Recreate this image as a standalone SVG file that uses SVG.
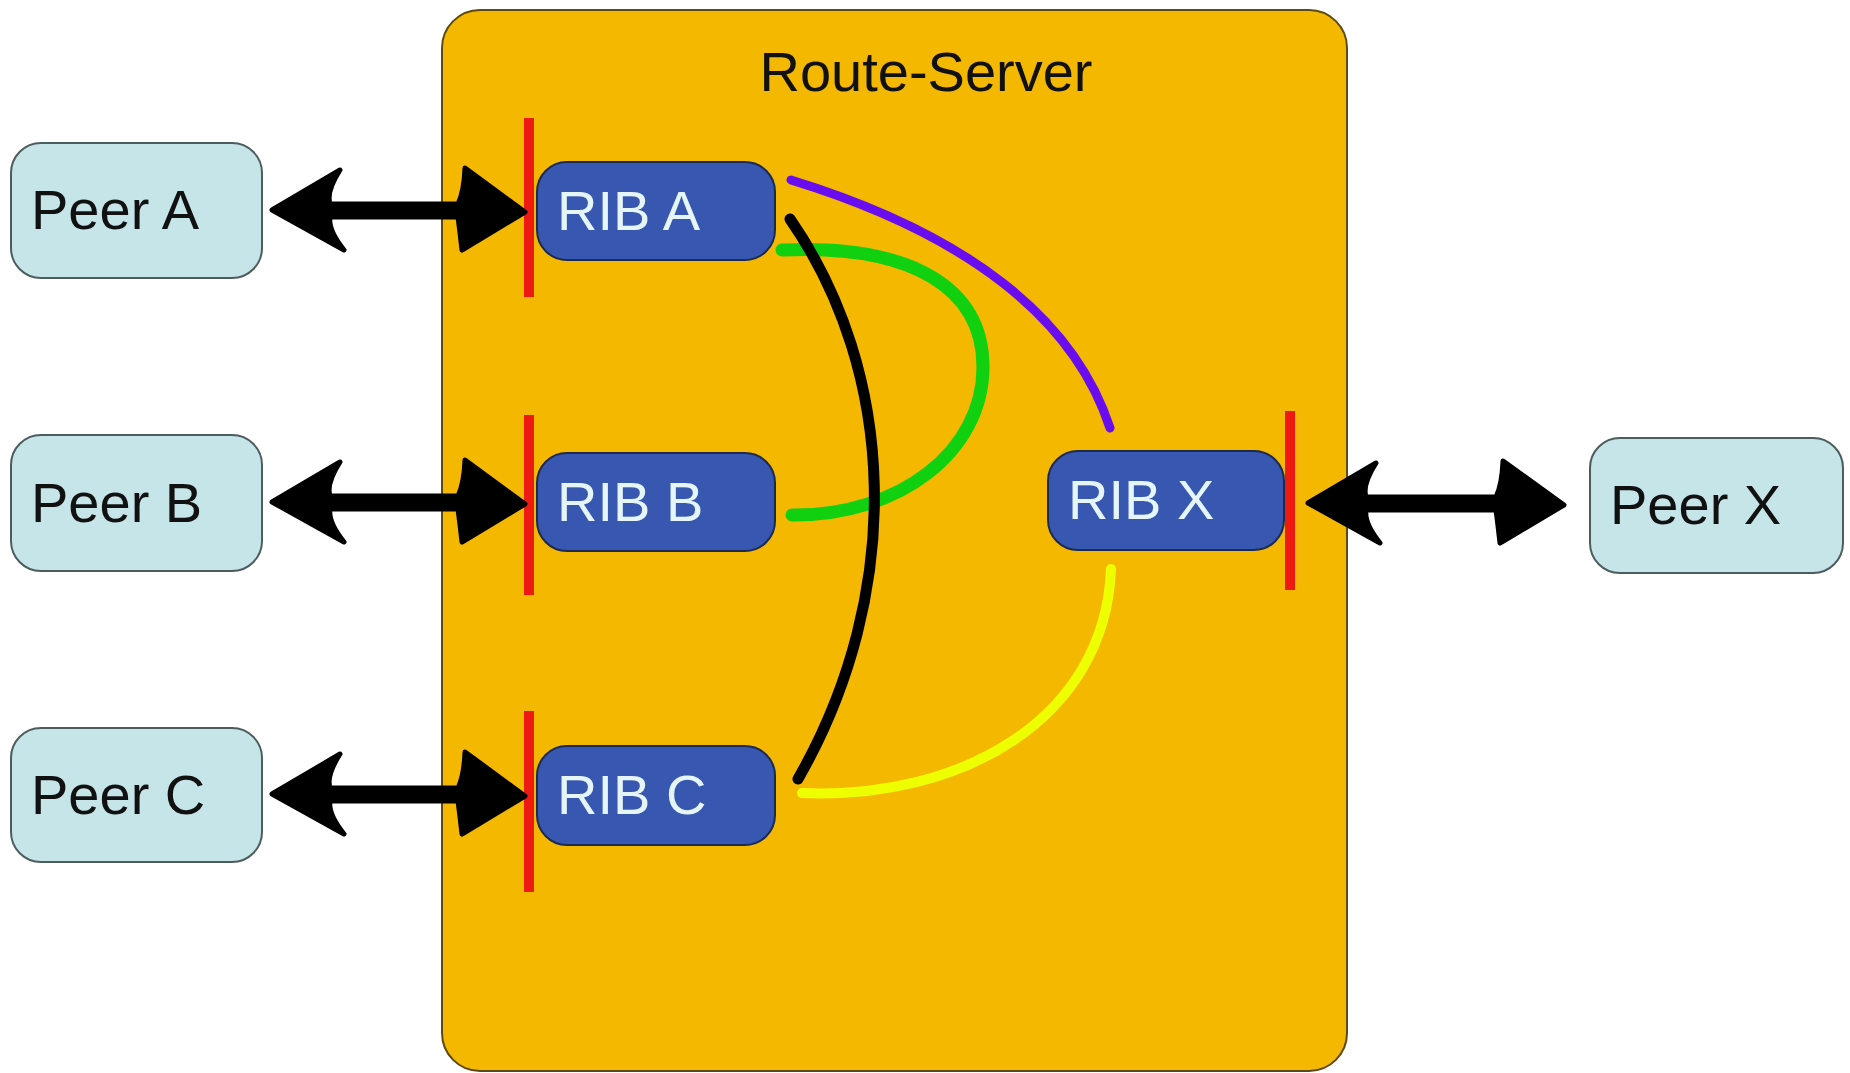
<svg xmlns="http://www.w3.org/2000/svg" width="1850" height="1073" viewBox="0 0 1850 1073">
<style>
.peer{fill:#c6e5e9;stroke:#4d5c5c;stroke-width:2}
.rib{fill:#3757b1;stroke:#1c2a52;stroke-width:2}
.pt{font-family:"Liberation Sans",Arial,sans-serif;font-size:56px;fill:#111}
.rt{font-family:"Liberation Sans",Arial,sans-serif;font-size:56px;fill:#e6f6f8}
.bar{fill:#ee1a12}
.arr{fill:#000;stroke:#000;stroke-width:5;stroke-linejoin:round}
.cv{fill:none;stroke-linecap:round}
</style>
<rect width="1850" height="1073" fill="#fff"/>
<g id="route-server">
<rect x="442" y="10" width="905" height="1061" rx="38" fill="#f5b800" stroke="#5c4a10" stroke-width="2"/>
<text x="926" y="91" text-anchor="middle" class="pt" font-size="57">Route-Server</text>
</g>
<g id="peer-a"><rect class="peer" x="11" y="143" width="251" height="135" rx="30"/><text class="pt" x="31" y="229">Peer A</text></g>
<g id="peer-b"><rect class="peer" x="11" y="435" width="251" height="136" rx="30"/><text class="pt" x="31" y="522">Peer B</text></g>
<g id="peer-c"><rect class="peer" x="11" y="728" width="251" height="134" rx="30"/><text class="pt" x="31" y="814">Peer C</text></g>
<g id="peer-x"><rect class="peer" x="1590" y="438" width="253" height="135" rx="30"/><text class="pt" x="1610" y="524">Peer X</text></g>
<g id="rib-a"><rect class="rib" x="537" y="162" width="238" height="98" rx="30"/><text class="rt" x="557" y="230">RIB A</text></g>
<g id="rib-b"><rect class="rib" x="537" y="453" width="238" height="98" rx="30"/><text class="rt" x="557" y="521">RIB B</text></g>
<g id="rib-c"><rect class="rib" x="537" y="746" width="238" height="99" rx="30"/><text class="rt" x="557" y="814">RIB C</text></g>
<g id="rib-x"><rect class="rib" x="1048" y="451" width="236" height="99" rx="30"/><text class="rt" x="1068" y="519">RIB X</text></g>
<g id="interfaces">
<rect class="bar" x="524" y="118" width="10" height="179"/>
<rect class="bar" x="524" y="415" width="10" height="180"/>
<rect class="bar" x="524" y="711" width="10" height="181"/>
<rect class="bar" x="1285" y="411" width="10" height="179"/>
</g>
<g id="connectors">
<path class="arr" d="M272,210 L340,170 Q326,192 330,204 L458,204 Q464,192 465,168 L525,212 L462,250 Q460,232 458,217 L330,217 Q328,230 344,250 Z"/>
<path class="arr" d="M272,502 L340,462 Q326,484 330,496 L458,496 Q464,484 465,460 L525,504 L462,542 Q460,524 458,509 L330,509 Q328,522 344,542 Z"/>
<path class="arr" d="M272,794 L340,754 Q326,776 330,788 L458,788 Q464,776 465,752 L525,796 L462,834 Q460,816 458,801 L330,801 Q328,814 344,834 Z"/>
<path class="arr" d="M1308,503 L1376,463 Q1362,485 1366,497 L1496,497 Q1502,485 1503,461 L1564,505 L1500,543 Q1498,525 1496,510 L1366,510 Q1364,523 1380,543 Z"/>
<path id="purple" class="cv" stroke="#6a0cf0" stroke-width="9" d="M791,180 C967,234 1074,318 1110,428"/>
<path id="green" class="cv" stroke="#10d010" stroke-width="13" d="M782,250 C912,244 983,288 983,367 C983,451 900,516 792,515"/>
<path id="black" class="cv" stroke="#000" stroke-width="11" d="M790,219 C896,372 906,590 798,779"/>
<path id="yellow" class="cv" stroke="#eeff00" stroke-width="10" d="M802,793 C960,800 1105,720 1111,569"/>
</g>
</svg>
